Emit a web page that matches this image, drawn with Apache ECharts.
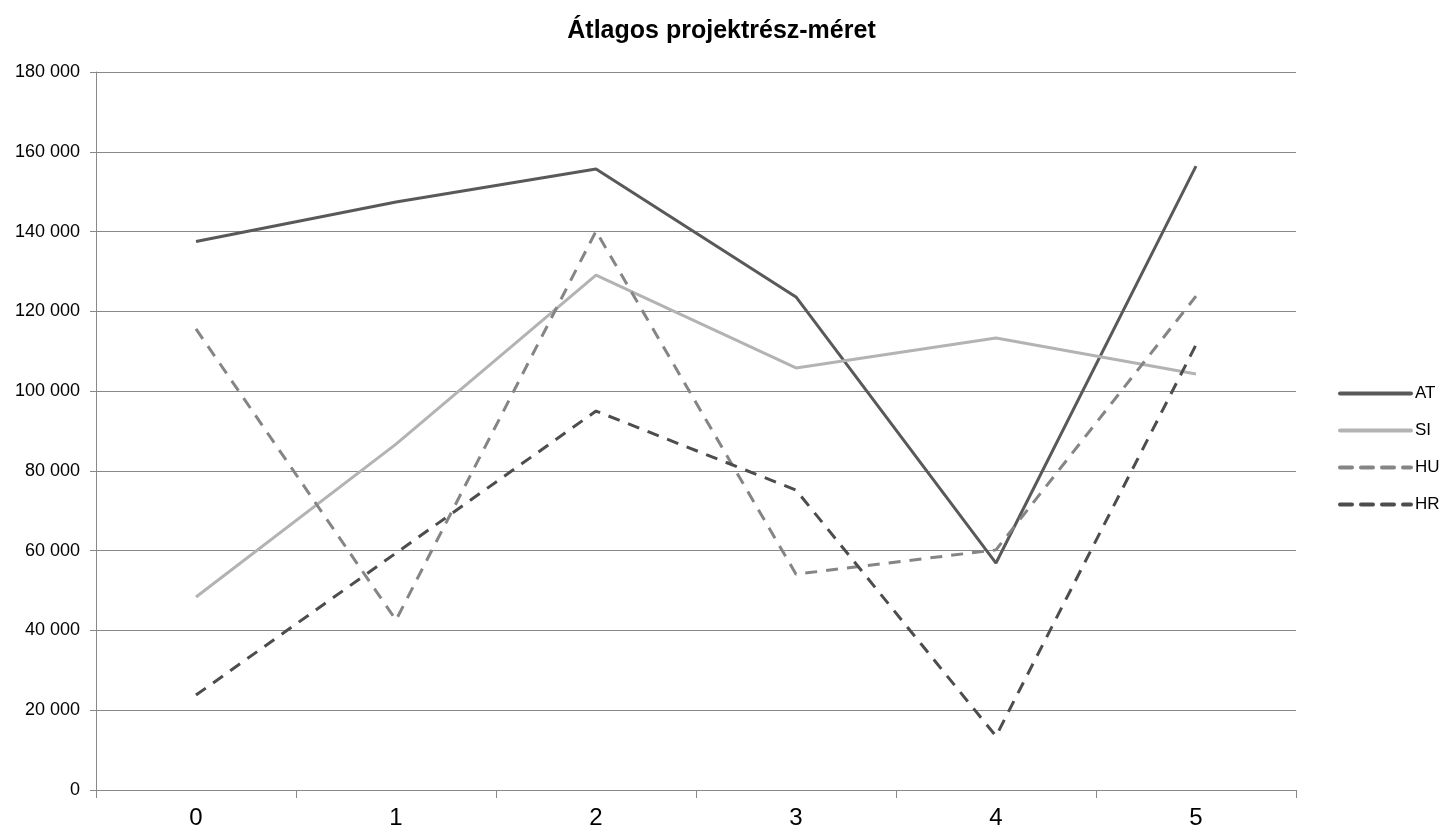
<!DOCTYPE html>
<html>
<head>
<meta charset="utf-8">
<script src="https://cdn.jsdelivr.net/npm/echarts@6/dist/echarts.min.js"></script>
<style>
  html, body { margin: 0; padding: 0; background: #fff; }
  #chart { width: 1443px; height: 833px; }
</style>
</head>
<body>
<div id="chart"></div>
<script>
var categories = ['0', '1', '2', '3', '4', '5'];
var atValues = [137500, 147400, 155700, 123600, 56900, 156400];
var siValues = [48400, 86700, 129100, 105800, 113300, 104300];
var huValues = [115600, 42600, 140100, 54100, 60200, 123800];
var hrValues = [23800, 59400, 95000, 75200, 13500, 111600];

var chart = echarts.init(document.getElementById('chart'));

function line(name, data, color, dashed) {
    return {
        name: name,
        type: 'line',
        data: data,
        symbol: 'none',
        lineStyle: { color: color, width: 3, type: dashed ? [12, 9] : 'solid' },
        itemStyle: { color: color }
    };
}

var option = {
    animation: false,
    title: {
        text: 'Átlagos projektrész-méret',
        left: 'center',
        top: 14,
        textStyle: { fontFamily: 'Liberation Sans', fontSize: 25, fontWeight: 'bold', color: '#000' }
    },
    legend: {
        orient: 'vertical',
        left: 1333,
        top: 380,
        padding: 5,
        itemWidth: 71,
        itemHeight: 17,
        itemGap: 20,
        itemStyle: { opacity: 0 },
        lineStyle: { width: 4, cap: 'round' },
        textStyle: { fontFamily: 'Liberation Sans', fontSize: 17, color: '#000', padding: [0, 0, 0, -1] },
        data: ['AT', 'SI', 'HU', 'HR']
    },
    grid: { left: 96, right: 147, top: 72, bottom: 43, containLabel: false },
    xAxis: {
        type: 'category',
        data: categories,
        boundaryGap: true,
        axisLine: { lineStyle: { color: '#888', width: 1 } },
        axisTick: { show: true, length: 8, lineStyle: { color: '#888' } },
        axisLabel: { fontFamily: 'Liberation Sans', fontSize: 24, color: '#000', margin: 16 }
    },
    yAxis: {
        type: 'value',
        min: 0,
        max: 180000,
        interval: 20000,
        axisLine: { show: true, lineStyle: { color: '#888', width: 1 } },
        axisTick: { show: true, length: 6, lineStyle: { color: '#888' } },
        splitLine: { lineStyle: { color: '#888', width: 1 } },
        axisLabel: {
            fontFamily: 'Liberation Sans', fontSize: 18, color: '#000', margin: 16,
            formatter: function (v) {
                return String(v).replace(/\B(?=(\d{3})+(?!\d))/g, ' ');
            }
        }
    },
    series: [
        line('AT', atValues, '#595959', false),
        line('SI', siValues, '#b3b3b3', false),
        line('HU', huValues, '#858585', true),
        line('HR', hrValues, '#4d4d4d', true)
    ]
};

chart.setOption(option);
</script>
</body>
</html>
